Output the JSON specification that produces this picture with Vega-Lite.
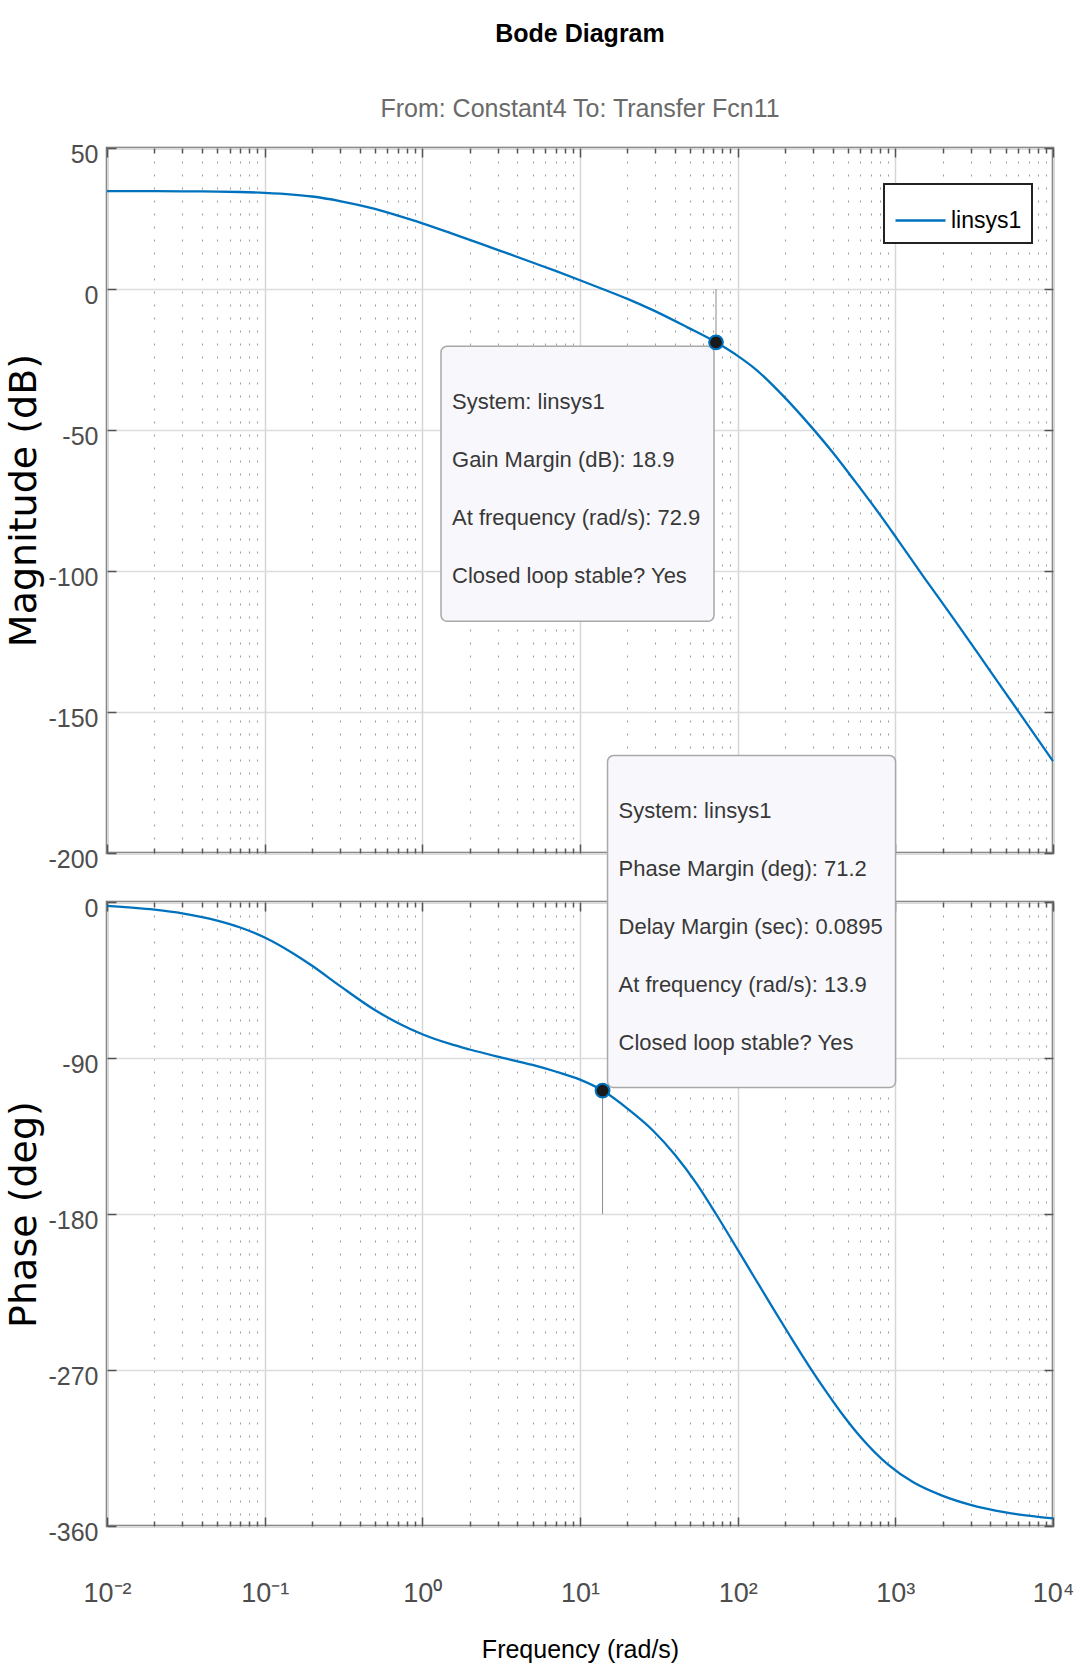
{
  "$schema": "https://vega.github.io/schema/vega-lite/v6.json",
  "background": "white",
  "padding": {"left": 3, "top": 20, "right": 20, "bottom": 10},
  "spacing": 49,
  "bounds": "flush",
  "resolve": {"legend": {"color": "independent"}},
  "config": {
    "font": "Liberation Sans",
    "view": {"stroke": "#6e6e6e", "strokeWidth": 2.5},
    "axis": {
      "domain": false,
      "labelFont": "Liberation Sans",
      "labelFontSize": 25,
      "labelColor": "#4d4d4d",
      "tickColor": "#555555",
      "tickWidth": 1.5,
      "gridColor": "#dcdcdc",
      "gridWidth": 1.5,
      "labelOverlap": false,
      "labelFlush": false
    }
  },
  "datasets": {
    "mag": [
      {"w": 0.01, "db": 34.7}, {"w": 0.02, "db": 34.68}, {"w": 0.03, "db": 34.64}, {"w": 0.05, "db": 34.55},
      {"w": 0.07, "db": 34.4}, {"w": 0.1, "db": 34.1}, {"w": 0.15, "db": 33.5}, {"w": 0.2, "db": 32.8},
      {"w": 0.3, "db": 31.2}, {"w": 0.5, "db": 28.4}, {"w": 0.7, "db": 26.0}, {"w": 1, "db": 23.3},
      {"w": 1.5, "db": 19.9}, {"w": 2, "db": 17.4}, {"w": 3, "db": 13.9}, {"w": 5, "db": 9.4},
      {"w": 7, "db": 6.4}, {"w": 10, "db": 3.1}, {"w": 13.9, "db": 0}, {"w": 20, "db": -3.5},
      {"w": 29, "db": -7.5}, {"w": 48, "db": -13.6}, {"w": 72.9, "db": -18.9}, {"w": 100, "db": -23.7},
      {"w": 129, "db": -28.3}, {"w": 200, "db": -38.6}, {"w": 269, "db": -46.5}, {"w": 400, "db": -57.9},
      {"w": 560, "db": -68.5}, {"w": 800, "db": -80.1}, {"w": 1023, "db": -88.5}, {"w": 1500, "db": -101.8},
      {"w": 2490, "db": -119}, {"w": 4000, "db": -135.5}, {"w": 6000, "db": -149.6}, {"w": 10000, "db": -167.4}
    ],
    "phase": [
      {"w": 0.01, "deg": -2.2}, {"w": 0.02, "deg": -4.4}, {"w": 0.03, "deg": -6.5}, {"w": 0.05, "deg": -10.7},
      {"w": 0.07, "deg": -14.7}, {"w": 0.1, "deg": -20.5}, {"w": 0.15, "deg": -29.4}, {"w": 0.2, "deg": -36.8},
      {"w": 0.3, "deg": -48.4}, {"w": 0.5, "deg": -62.3}, {"w": 0.7, "deg": -69.8}, {"w": 1, "deg": -76.3},
      {"w": 1.5, "deg": -81.9}, {"w": 2, "deg": -85.1}, {"w": 3, "deg": -89.2}, {"w": 5, "deg": -94},
      {"w": 7, "deg": -97.8}, {"w": 10, "deg": -102.5}, {"w": 13.9, "deg": -108.8}, {"w": 20, "deg": -119.2},
      {"w": 29, "deg": -131.8}, {"w": 40, "deg": -145.8}, {"w": 55, "deg": -162.6}, {"w": 72.9, "deg": -180},
      {"w": 100, "deg": -200.6}, {"w": 130, "deg": -217.8}, {"w": 170, "deg": -235.3}, {"w": 213, "deg": -249.8},
      {"w": 260, "deg": -262.4}, {"w": 350, "deg": -280.2}, {"w": 450, "deg": -294.2}, {"w": 600, "deg": -308.5},
      {"w": 900, "deg": -324.6}, {"w": 1300, "deg": -334.8}, {"w": 2000, "deg": -342.6}, {"w": 3000, "deg": -347.8},
      {"w": 5000, "deg": -352.2}, {"w": 10000, "deg": -355.6}
    ],
    "gm": [
      {"w": 72.9, "db": -18.9, "ref": 0, "label": "System: linsys1\nGain Margin (dB): 18.9\nAt frequency (rad/s): 72.9\nClosed loop stable? Yes"}
    ],
    "pm": [
      {"w": 13.9, "deg": -108.8, "ref": -180, "label": "System: linsys1\nPhase Margin (deg): 71.2\nDelay Margin (sec): 0.0895\nAt frequency (rad/s): 13.9\nClosed loop stable? Yes"}
    ]
  },
  "vconcat": [
    {
      "width": 946,
      "height": 705,
      "title": {
        "text": "Bode Diagram",
        "subtitle": "From: Constant4  To: Transfer Fcn11",
        "anchor": "middle",
        "frame": "group",
        "font": "Liberation Sans",
        "fontSize": 25,
        "fontWeight": "bold",
        "color": "#000000",
        "subtitleFont": "Liberation Sans",
        "subtitleFontSize": 25,
        "subtitleColor": "#6a6a6a",
        "subtitlePadding": 50,
        "offset": 20
      },
      "resolve": {"axis": {"x": "independent", "y": "independent"}},
      "layer": [
        {
          "data": {"name": "mag"},
          "mark": {"type": "line", "strokeWidth": 2.3, "interpolate": "monotone"},
          "encoding": {
            "x": {
              "field": "w", "type": "quantitative",
              "scale": {"type": "log", "domain": [0.01, 10000], "nice": false},
              "axis": {
                "orient": "bottom", "title": null, "labels": false,
                "values": [0.01,0.02,0.03,0.04,0.05,0.06,0.07,0.08,0.09,0.1,0.2,0.3,0.4,0.5,0.6,0.7,0.8,0.9,1,2,3,4,5,6,7,8,9,10,20,30,40,50,60,70,80,90,100,200,300,400,500,600,700,800,900,1000,2000,3000,4000,5000,6000,7000,8000,9000,10000],
                "tickSize": {"condition": {"test": "datum.value==0.01||datum.value==0.1||datum.value==1||datum.value==10||datum.value==100||datum.value==1000||datum.value==10000", "value": -9}, "value": -5},
                "gridDash": {"condition": {"test": "datum.value==0.01||datum.value==0.1||datum.value==1||datum.value==10||datum.value==100||datum.value==1000||datum.value==10000", "value": []}, "value": [2, 11]},
                "gridColor": {"condition": {"test": "datum.value==0.01||datum.value==0.1||datum.value==1||datum.value==10||datum.value==100||datum.value==1000||datum.value==10000", "value": "#d6d6d6"}, "value": "#9a9a9a"},
                "gridWidth": {"condition": {"test": "datum.value==0.01||datum.value==0.1||datum.value==1||datum.value==10||datum.value==100||datum.value==1000||datum.value==10000", "value": 1.5}, "value": 1}
              }
            },
            "y": {
              "field": "db", "type": "quantitative",
              "scale": {"domain": [-200, 50], "nice": false, "zero": false},
              "axis": {
                "orient": "left",
                "values": [50, 0, -50, -100, -150, -200],
                "labelExpr": "replace(datum.label, '−', '-')",
                "tickSize": -9,
                "labelPadding": 18,
                "labelOffset": 6,
                "title": "Magnitude (dB)",
                "titleFont": "DejaVu Sans",
                "titleFontSize": 38,
                "titleFontWeight": "normal",
                "titleColor": "#000000",
                "titleX": -83,
                "titleY": 352,
                "titleBaseline": "middle"
              }
            },
            "color": {
              "datum": "linsys1",
              "type": "nominal",
              "scale": {"range": ["#0072BD"]},
              "legend": {
                "title": null,
                "orient": "none",
                "legendX": 777,
                "legendY": 36,
                "symbolType": "stroke",
                "symbolSize": 2500,
                "symbolStrokeWidth": 2.5,
                "labelFont": "Liberation Sans",
                "labelFontSize": 23,
                "labelColor": "#000000",
                "labelOffset": 4,
                "padding": 10,
                "strokeColor": "#222222",
                "fillColor": "#ffffff",
                "encode": {"legend": {"update": {"strokeWidth": {"value": 2}}}}
              }
            }
          }
        },
        {
          "mark": {"type": "rule", "color": "#858585", "strokeWidth": 2, "strokeDash": [10, 4, 2, 4]},
          "encoding": {"y": {"datum": 0, "type": "quantitative", "axis": null}}
        },
        {
          "data": {"name": "gm"},
          "mark": {"type": "rule", "color": "#8c8c8c", "strokeWidth": 1},
          "encoding": {
            "x": {"field": "w", "type": "quantitative", "axis": null},
            "y": {"field": "db", "type": "quantitative", "axis": null},
            "y2": {"field": "ref"}
          }
        },
        {
          "data": {"name": "gm"},
          "mark": {"type": "rect", "fill": "#f8f8fc", "stroke": "#a8a8a8", "strokeWidth": 1.5, "cornerRadius": 6, "xOffset": -275, "x2Offset": -2, "yOffset": 4, "y2Offset": 279},
          "encoding": {
            "x": {"field": "w", "type": "quantitative", "axis": null},
            "x2": {"field": "w"},
            "y": {"field": "db", "type": "quantitative", "axis": null},
            "y2": {"field": "db"}
          }
        },
        {
          "data": {"name": "gm"},
          "mark": {"type": "text", "align": "left", "baseline": "middle", "lineBreak": "\n", "lineHeight": 58, "dx": -264, "dy": 60, "font": "Liberation Sans", "fontSize": 22, "color": "#383838"},
          "encoding": {
            "x": {"field": "w", "type": "quantitative", "axis": null},
            "y": {"field": "db", "type": "quantitative", "axis": null},
            "text": {"field": "label"}
          }
        },
        {
          "data": {"name": "gm"},
          "mark": {"type": "point", "filled": true, "size": 190, "shape": "circle", "fill": "#1a1a1a", "stroke": "#0072BD", "strokeWidth": 2, "opacity": 1},
          "encoding": {
            "x": {"field": "w", "type": "quantitative", "axis": null},
            "y": {"field": "db", "type": "quantitative", "axis": null}
          }
        },
        {
          "data": {"name": "mag"},
          "mark": {"type": "line", "strokeOpacity": 0},
          "encoding": {
            "x": {
              "field": "w", "type": "quantitative",
              "axis": {
                "orient": "top", "title": null, "labels": false, "grid": false,
                "values": [0.01,0.02,0.03,0.04,0.05,0.06,0.07,0.08,0.09,0.1,0.2,0.3,0.4,0.5,0.6,0.7,0.8,0.9,1,2,3,4,5,6,7,8,9,10,20,30,40,50,60,70,80,90,100,200,300,400,500,600,700,800,900,1000,2000,3000,4000,5000,6000,7000,8000,9000,10000],
                "tickSize": {"condition": {"test": "datum.value==0.01||datum.value==0.1||datum.value==1||datum.value==10||datum.value==100||datum.value==1000||datum.value==10000", "value": -9}, "value": -5}
              }
            },
            "y": {
              "field": "db", "type": "quantitative",
              "axis": {"orient": "right", "title": null, "labels": false, "grid": false, "values": [50, 0, -50, -100, -150, -200], "tickSize": -9}
            }
          }
        }
      ]
    },
    {
      "width": 946,
      "height": 624,
      "resolve": {"axis": {"x": "independent", "y": "independent"}},
      "layer": [
        {
          "data": {"name": "phase"},
          "mark": {"type": "line", "strokeWidth": 2.3, "interpolate": "monotone", "color": "#0072BD"},
          "encoding": {
            "x": {
              "field": "w", "type": "quantitative",
              "scale": {"type": "log", "domain": [0.01, 10000], "nice": false},
              "axis": {
                "orient": "bottom",
                "values": [0.01,0.02,0.03,0.04,0.05,0.06,0.07,0.08,0.09,0.1,0.2,0.3,0.4,0.5,0.6,0.7,0.8,0.9,1,2,3,4,5,6,7,8,9,10,20,30,40,50,60,70,80,90,100,200,300,400,500,600,700,800,900,1000,2000,3000,4000,5000,6000,7000,8000,9000,10000],
                "labelExpr": "datum.value==0.01 ? '10⁻²' : datum.value==0.1 ? '10⁻¹' : datum.value==1 ? '10⁰' : datum.value==10 ? '10¹' : datum.value==100 ? '10²' : datum.value==1000 ? '10³' : datum.value==10000 ? '10⁴' : ''",
                "labelFontSize": 27,
                "labelBaseline": "alphabetic",
                "labelPadding": 84,
                "tickSize": {"condition": {"test": "datum.value==0.01||datum.value==0.1||datum.value==1||datum.value==10||datum.value==100||datum.value==1000||datum.value==10000", "value": -9}, "value": -5},
                "gridDash": {"condition": {"test": "datum.value==0.01||datum.value==0.1||datum.value==1||datum.value==10||datum.value==100||datum.value==1000||datum.value==10000", "value": []}, "value": [2, 11]},
                "gridColor": {"condition": {"test": "datum.value==0.01||datum.value==0.1||datum.value==1||datum.value==10||datum.value==100||datum.value==1000||datum.value==10000", "value": "#d6d6d6"}, "value": "#9a9a9a"},
                "gridWidth": {"condition": {"test": "datum.value==0.01||datum.value==0.1||datum.value==1||datum.value==10||datum.value==100||datum.value==1000||datum.value==10000", "value": 1.5}, "value": 1},
                "title": "Frequency  (rad/s)",
                "titleFont": "Liberation Sans",
                "titleFontSize": 25,
                "titleFontWeight": "normal",
                "titleColor": "#000000",
                "titleY": 123,
                "titleBaseline": "middle"
              }
            },
            "y": {
              "field": "deg", "type": "quantitative",
              "scale": {"domain": [-360, 0], "nice": false, "zero": false},
              "axis": {
                "orient": "left",
                "values": [0, -90, -180, -270, -360],
                "labelExpr": "replace(datum.label, '−', '-')",
                "tickSize": -9,
                "labelPadding": 18,
                "labelOffset": 6,
                "title": "Phase (deg)",
                "titleFont": "DejaVu Sans",
                "titleFontSize": 38,
                "titleFontWeight": "normal",
                "titleColor": "#000000",
                "titleX": -83,
                "titleY": 312,
                "titleBaseline": "middle"
              }
            }
          }
        },
        {
          "mark": {"type": "rule", "color": "#858585", "strokeWidth": 2, "strokeDash": [10, 4, 2, 4]},
          "encoding": {"y": {"datum": -180, "type": "quantitative", "axis": null}}
        },
        {
          "data": {"name": "pm"},
          "mark": {"type": "rule", "color": "#8c8c8c", "strokeWidth": 1},
          "encoding": {
            "x": {"field": "w", "type": "quantitative", "axis": null},
            "y": {"field": "deg", "type": "quantitative", "axis": null},
            "y2": {"field": "ref"}
          }
        },
        {
          "data": {"name": "pm"},
          "mark": {"type": "rect", "fill": "#f8f8fc", "stroke": "#a8a8a8", "strokeWidth": 1.5, "cornerRadius": 6, "xOffset": 5, "x2Offset": 293, "yOffset": -335, "y2Offset": -3},
          "encoding": {
            "x": {"field": "w", "type": "quantitative", "axis": null},
            "x2": {"field": "w"},
            "y": {"field": "deg", "type": "quantitative", "axis": null},
            "y2": {"field": "deg"}
          }
        },
        {
          "data": {"name": "pm"},
          "mark": {"type": "text", "align": "left", "baseline": "middle", "lineBreak": "\n", "lineHeight": 58, "dx": 16, "dy": -280, "font": "Liberation Sans", "fontSize": 22, "color": "#383838"},
          "encoding": {
            "x": {"field": "w", "type": "quantitative", "axis": null},
            "y": {"field": "deg", "type": "quantitative", "axis": null},
            "text": {"field": "label"}
          }
        },
        {
          "data": {"name": "pm"},
          "mark": {"type": "point", "filled": true, "size": 190, "shape": "circle", "fill": "#1a1a1a", "stroke": "#0072BD", "strokeWidth": 2, "opacity": 1},
          "encoding": {
            "x": {"field": "w", "type": "quantitative", "axis": null},
            "y": {"field": "deg", "type": "quantitative", "axis": null}
          }
        },
        {
          "data": {"name": "phase"},
          "mark": {"type": "line", "strokeOpacity": 0},
          "encoding": {
            "x": {
              "field": "w", "type": "quantitative",
              "axis": {
                "orient": "top", "title": null, "labels": false, "grid": false,
                "values": [0.01,0.02,0.03,0.04,0.05,0.06,0.07,0.08,0.09,0.1,0.2,0.3,0.4,0.5,0.6,0.7,0.8,0.9,1,2,3,4,5,6,7,8,9,10,20,30,40,50,60,70,80,90,100,200,300,400,500,600,700,800,900,1000,2000,3000,4000,5000,6000,7000,8000,9000,10000],
                "tickSize": {"condition": {"test": "datum.value==0.01||datum.value==0.1||datum.value==1||datum.value==10||datum.value==100||datum.value==1000||datum.value==10000", "value": -9}, "value": -5}
              }
            },
            "y": {
              "field": "deg", "type": "quantitative",
              "axis": {"orient": "right", "title": null, "labels": false, "grid": false, "values": [0, -90, -180, -270, -360], "tickSize": -9}
            }
          }
        }
      ]
    }
  ]
}
